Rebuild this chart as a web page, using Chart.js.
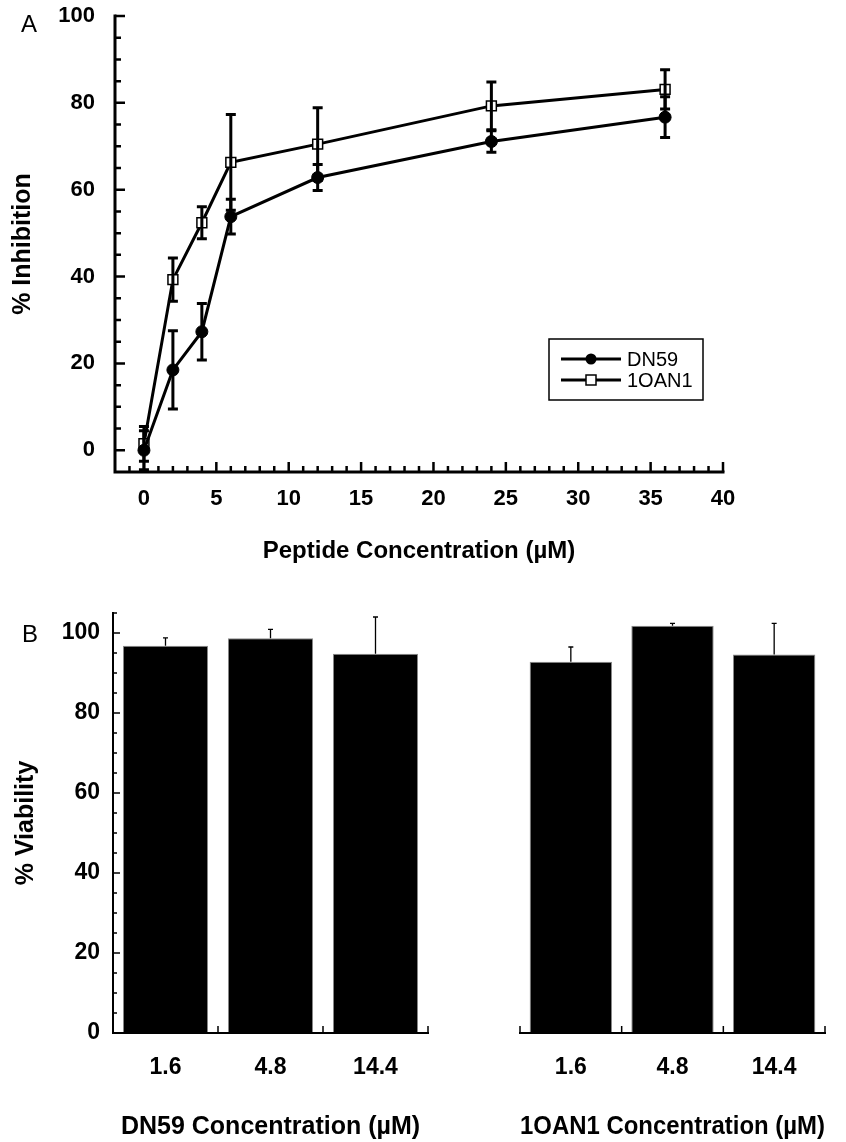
<!DOCTYPE html>
<html>
<head>
<meta charset="utf-8">
<script src="https://cdn.jsdelivr.net/npm/chart.js@4.4.0/dist/chart.umd.min.js"></script>
<style>
html, body { margin: 0; padding: 0; background: #fff; }
#wrap { position: relative; width: 846px; height: 1142px; overflow: hidden; }
canvas { position: absolute; }
.tag { position: absolute; font: 24px "Liberation Sans", Arial, sans-serif; line-height: 24px; color: #000; }
</style>
</head>
<body>
<div id="wrap">
  <canvas id="chartA" width="846" height="580" style="left:0;top:0"></canvas>
  <canvas id="chartB1" width="440" height="562" style="left:0;top:580px"></canvas>
  <canvas id="chartB2" width="406" height="562" style="left:440px;top:580px"></canvas>
  <div class="tag" style="left:21px;top:12px">A</div>
  <div class="tag" style="left:22px;top:622px">B</div>
</div>
<script>
// ---- panel A : inhibition vs concentration ----
const concentrationUM = [0, 2, 4, 6, 12, 24, 36];
const dn59Inhibition = [0, 18.5, 27.3, 53.8, 62.8, 71.1, 76.7];
const dn59InhibitionErr = [4.5, 9, 6.5, 4, 3, 2.5, 4.7];
const oan1Inhibition = [1.5, 39.3, 52.4, 66.3, 70.5, 79.3, 83.1];
const oan1InhibitionErr = [4, 5, 3.7, 11, 8.4, 5.5, 4.5];
const inhibitionXTicks = [0, 5, 10, 15, 20, 25, 30, 35, 40];
const inhibitionYTicks = [0, 20, 40, 60, 80, 100];

// ---- panel B : viability ----
const doseLabels = ['1.6', '4.8', '14.4'];
const dn59Viability = [96.8, 98.7, 94.8];
const dn59ViabilityErr = [2, 2.2, 9.2];
const oan1Viability = [92.8, 101.8, 94.6];
const oan1ViabilityErr = [3.7, 0.6, 7.8];
const viabilityYTicks = [0, 20, 40, 60, 80, 100];

const FONT = '"Liberation Sans", Arial, sans-serif';
Chart.defaults.font.family = FONT;
Chart.defaults.color = '#000';

const fixTicks = (list) => (scale) => { scale.ticks = list.map(v => ({ value: v })); };
// fixed box width, and no extra room reserved for the end labels
const fixWidth = (w) => (scale) => { scale.width = w; scale.paddingTop = 0; scale.paddingBottom = 0; };
const fixHeight = (h) => (scale) => { scale.height = h; };

// axis lines with inward ticks, drawn from the chart scales
const inkAxes = {
  id: 'inkAxes',
  afterDraw(chart, args, o) {
    const { ctx, chartArea: a } = chart;
    const x = chart.scales.x, y = chart.scales.y;
    ctx.save();
    ctx.strokeStyle = '#000';
    ctx.lineWidth = o.lineWidth;
    ctx.lineCap = 'square';
    ctx.beginPath();
    if (o.yAxis) { ctx.moveTo(a.left, a.top); ctx.lineTo(a.left, a.bottom); }
    ctx.moveTo(a.left, a.bottom); ctx.lineTo(a.right, a.bottom);
    ctx.stroke();
    ctx.lineCap = 'butt';
    ctx.lineWidth = o.tickWidth;
    ctx.beginPath();
    if (o.yAxis) {
      for (let v = o.yFrom; v <= o.yTo + 1e-9; v += o.yMinor) {
        const py = y.getPixelForValue(v);
        const len = o.yMajor.includes(v) ? o.major : o.minor;
        ctx.moveTo(a.left, py); ctx.lineTo(a.left + len, py);
      }
    }
    if (o.xCategory) {
      for (let i = 0; i <= x.getLabels().length; i++) {
        const px = x.getPixelForValue(i - 0.5);
        ctx.moveTo(px, a.bottom); ctx.lineTo(px, a.bottom - o.major);
      }
    } else {
      for (let v = o.xFrom; v <= o.xTo + 1e-9; v += o.xMinor) {
        const px = x.getPixelForValue(v);
        const len = o.xMajor.includes(v) ? o.major : o.minor;
        ctx.moveTo(px, a.bottom); ctx.lineTo(px, a.bottom - len);
      }
    }
    ctx.stroke();
    ctx.restore();
  }
};

const errorBars = {
  id: 'errorBars',
  afterDatasetsDraw(chart, args, o) {
    const { ctx } = chart;
    const y = chart.scales.y;
    ctx.save();
    ctx.strokeStyle = '#000';
    ctx.lineWidth = o.lineWidth;
    chart.data.datasets.forEach((ds, i) => {
      if (!ds.errors) return;
      chart.getDatasetMeta(i).data.forEach((el, j) => {
        const raw = ds.data[j];
        const val = typeof raw === 'object' ? raw.y : raw;
        const top = y.getPixelForValue(val + ds.errors[j]);
        const bot = o.upOnly ? el.y : y.getPixelForValue(val - ds.errors[j]);
        const h = o.cap / 2;
        ctx.beginPath();
        ctx.moveTo(el.x, top); ctx.lineTo(el.x, bot);
        ctx.moveTo(el.x - h, top); ctx.lineTo(el.x + h, top);
        if (!o.upOnly) { ctx.moveTo(el.x - h, bot); ctx.lineTo(el.x + h, bot); }
        ctx.stroke();
      });
    });
    ctx.restore();
  }
};

const boxLegend = {
  id: 'boxLegend',
  afterDraw(chart, args, o) {
    const { ctx } = chart;
    ctx.save();
    ctx.strokeStyle = '#000';
    ctx.lineWidth = 1.5;
    ctx.strokeRect(o.x, o.y, o.w, o.h);
    ctx.font = '20px ' + FONT;
    ctx.textBaseline = 'middle';
    ctx.fillStyle = '#000';
    chart.data.datasets.forEach((ds, k) => {
      const ry = o.y + 20 + k * 21;
      ctx.lineWidth = 3;
      ctx.beginPath();
      ctx.moveTo(o.x + 12, ry); ctx.lineTo(o.x + 72, ry);
      ctx.stroke();
      const mx = o.x + 42;
      if (ds.pointStyle === 'circle') {
        ctx.beginPath(); ctx.arc(mx, ry, 5.5, 0, Math.PI * 2); ctx.fillStyle = '#000'; ctx.fill();
      } else {
        ctx.fillStyle = '#fff'; ctx.fillRect(mx - 5, ry - 5, 10, 10);
        ctx.lineWidth = 1.5; ctx.strokeRect(mx - 5, ry - 5, 10, 10);
      }
      ctx.fillStyle = '#000';
      ctx.fillText(ds.label, o.x + 78, ry + 1);
    });
    ctx.restore();
  }
};

// ---------- Panel A ----------
new Chart(document.getElementById('chartA'), {
  type: 'line',
  data: {
    datasets: [
      {
        label: 'DN59',
        data: concentrationUM.map((c, i) => ({ x: c, y: dn59Inhibition[i] })),
        errors: dn59InhibitionErr,
        borderColor: '#000', borderWidth: 3,
        pointStyle: 'circle', pointRadius: 6,
        pointBackgroundColor: '#000', pointBorderColor: '#000', pointBorderWidth: 1
      },
      {
        label: '1OAN1',
        data: concentrationUM.map((c, i) => ({ x: c, y: oan1Inhibition[i] })),
        errors: oan1InhibitionErr,
        borderColor: '#000', borderWidth: 3,
        pointStyle: 'rect', pointRadius: 7,
        pointBackgroundColor: '#fff', pointBorderColor: '#000', pointBorderWidth: 1.5
      }
    ]
  },
  options: {
    responsive: false, animation: false, devicePixelRatio: 1,
    layout: { padding: { top: 16, right: 123, left: 0, bottom: 0 } },
    scales: {
      x: {
        type: 'linear', min: -2, max: 40,
        grid: { display: false, drawTicks: false }, border: { display: false },
        afterBuildTicks: fixTicks(inhibitionXTicks),
        afterFit: fixHeight(108),
        ticks: { padding: 14, maxRotation: 0, font: { size: 22, weight: 'bold' } },
        title: { display: true, text: 'Peptide Concentration (µM)', font: { size: 24, weight: 'bold' }, padding: { top: 0, bottom: 14 } }
      },
      y: {
        type: 'linear', min: -5, max: 100,
        grid: { display: false, drawTicks: false }, border: { display: false },
        afterBuildTicks: fixTicks(inhibitionYTicks),
        afterFit: fixWidth(115),
        ticks: { padding: 20, font: { size: 22, weight: 'bold' } },
        title: { display: true, text: '% Inhibition', font: { size: 25, weight: 'bold' }, padding: { top: 8, bottom: 0 } }
      }
    },
    plugins: {
      legend: { display: false }, tooltip: { enabled: false },
      inkAxes: { lineWidth: 3, tickWidth: 2.5, yAxis: true, major: 10, minor: 6,
        yFrom: 0, yTo: 100, yMinor: 5, yMajor: inhibitionYTicks,
        xFrom: -1, xTo: 40, xMinor: 1, xMajor: inhibitionXTicks },
      errorBars: { lineWidth: 3, cap: 10, upOnly: false },
      boxLegend: { x: 549, y: 339, w: 154, h: 61 }
    }
  },
  plugins: [inkAxes, errorBars, boxLegend]
});

// ---------- Panel B ----------
function viabilityChart(id, label, values, errs, title, showY, padLeft, padRight) {
  return new Chart(document.getElementById(id), {
    type: 'bar',
    data: {
      labels: doseLabels,
      datasets: [{
        label: label, data: values, errors: errs,
        backgroundColor: '#000', borderColor: '#8a8a8a', borderWidth: 1,
        categoryPercentage: 1, barPercentage: 0.81
      }]
    },
    options: {
      responsive: false, animation: false, devicePixelRatio: 1,
      layout: { padding: { top: 33, right: padRight, left: padLeft, bottom: 0 } },
      scales: {
        x: {
          type: 'category',
          grid: { display: false, drawTicks: false }, border: { display: false },
          afterFit: fixHeight(109),
          ticks: { padding: 21, maxRotation: 0, autoSkip: false, font: { size: 23, weight: 'bold' } },
          title: { display: true, text: title, font: { size: 25, weight: 'bold' }, padding: { top: 0, bottom: 0 } }
        },
        y: {
          type: 'linear', min: 0, max: 105, display: showY,
          grid: { display: false, drawTicks: false }, border: { display: false },
          afterBuildTicks: fixTicks(viabilityYTicks),
          afterFit: fixWidth(showY ? 113 : 0),
          ticks: { padding: 13, font: { size: 23, weight: 'bold' } },
          title: { display: true, text: '% Viability', font: { size: 25, weight: 'bold' }, padding: { top: 11, bottom: 0 } }
        }
      },
      plugins: {
        legend: { display: false }, tooltip: { enabled: false },
        inkAxes: { lineWidth: 2, tickWidth: 1.5, yAxis: showY, major: 7, minor: 4,
          yFrom: 0, yTo: 105, yMinor: 5, yMajor: viabilityYTicks, xCategory: true },
        errorBars: { lineWidth: 1.3, cap: 5, upOnly: true }
      }
    },
    plugins: [inkAxes, errorBars]
  });
}

viabilityChart('chartB1', 'DN59', dn59Viability, dn59ViabilityErr, 'DN59 Concentration (µM)', true, 0, 12);
viabilityChart('chartB2', '1OAN1', oan1Viability, oan1ViabilityErr, '1OAN1 Concentration (µM)', false, 80, 21);
</script>
</body>
</html>
